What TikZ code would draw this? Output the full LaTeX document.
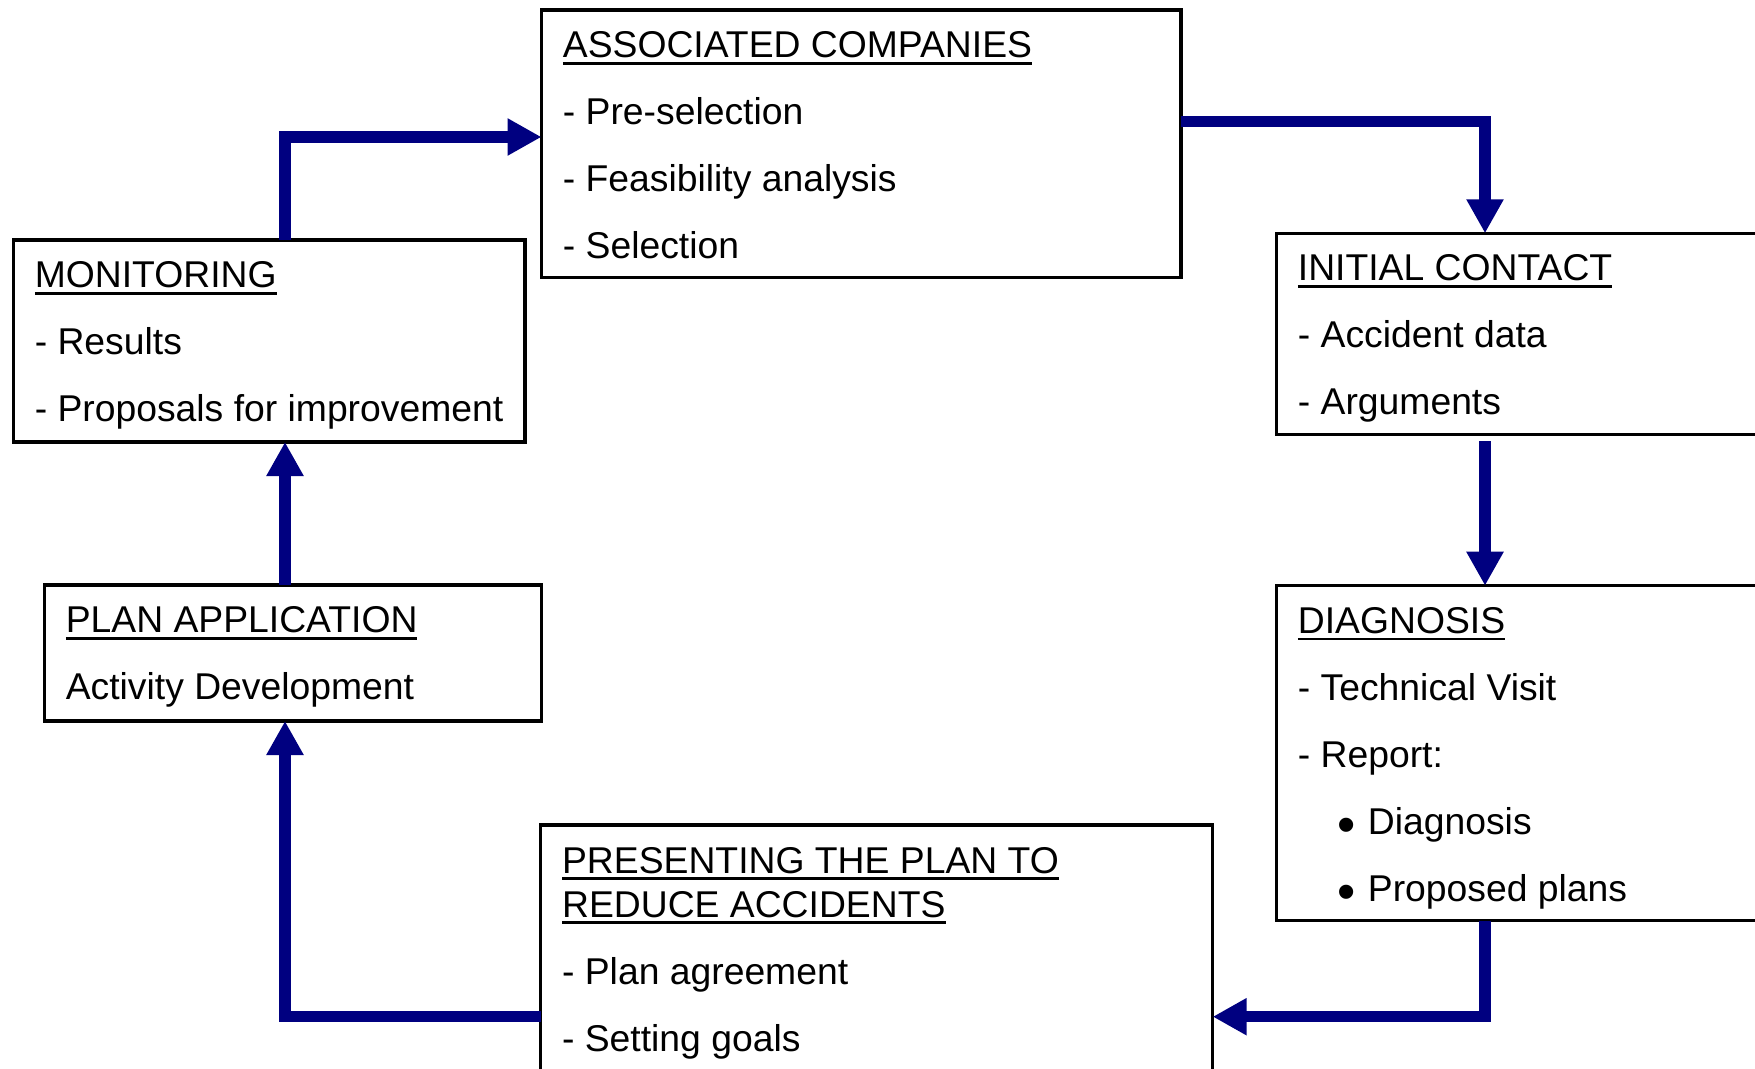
\documentclass[tikz,border=0pt]{standalone}
\usepackage{fontspec}
\setmainfont{Liberation Sans}
\usetikzlibrary{calc,arrows.meta}
\definecolor{flownavy}{RGB}{0,0,128}
\tikzset{>={Triangle[length=17pt,width=17.5pt]}}
\newcommand{\heading}[1]{\setbox0\hbox{#1}\rlap{\rule[-3.6pt]{\wd0}{1.4pt}}\box0}
\newcommand{\dotitem}[1]{\hspace*{20pt}{\fontsize{26}{0}\selectfont\raisebox{-4pt}{•}}\hspace{5.9pt}#1}

\begin{document}
\begin{tikzpicture}[x=0.5pt,y=-0.5pt,
  stage/.style={draw, line width=1.75pt, anchor=north west, inner sep=0pt, outer sep=0pt},
  entry/.style={anchor=base west, inner sep=0pt, font=\fontsize{18.65}{22}\selectfont},
  flow/.style={draw=flownavy, line width=5.75pt, ->}]
\useasboundingbox (0,0) rectangle (1755,1069);
\clip (0,0) rectangle (1755,1069);
% boxes
\node[stage, minimum width=319.75pt, minimum height=133.85pt] (assoc) at (541.5,10) {};
\node[stage, minimum width=255.8pt, minimum height=101pt] (mon) at (13.4,240) {};
\node[stage, minimum width=262pt, minimum height=100.5pt] (init) at (1276.5,233.3) {};
\node[stage, minimum width=262pt, minimum height=167.5pt] (diag) at (1276.5,585.7) {};
\node[stage, minimum width=248.55pt, minimum height=68pt] (plan) at (44.4,585) {};
\node[stage, minimum width=336pt, minimum height=162.5pt] (present) at (540.7,825) {};
% texts
\foreach \k/\t in {0/{\heading{ASSOCIATED COMPANIES}}, 1/- Pre-selection, 2/- Feasibility analysis, 3/- Selection}
  \node[entry] (assoc-\k) at ($(assoc.north west)+(21,{47.5+67*\k})$) {\t};
\foreach \k/\t in {0/{\heading{MONITORING}}, 1/- Results, 2/- Proposals for improvement}
  \node[entry] (mon-\k) at ($(mon.north west)+(21,{47.5+67*\k})$) {\t};
\foreach \k/\t in {0/{\heading{INITIAL CONTACT}}, 1/- Accident data, 2/- Arguments}
  \node[entry] (init-\k) at ($(init.north west)+(21,{47.5+67*\k})$) {\t};
\foreach \k/\t in {0/{\heading{DIAGNOSIS}}, 1/- Technical Visit, 2/- Report:, 3/{\dotitem{Diagnosis}}, 4/{\dotitem{Proposed plans}}}
  \node[entry] (diag-\k) at ($(diag.north west)+(21,{47.5+67*\k})$) {\t};
\foreach \k/\t in {0/{\heading{PLAN APPLICATION}}, 1/Activity Development}
  \node[entry] (plan-\k) at ($(plan.north west)+(21,{47.5+67*\k})$) {\t};
\foreach \k/\dy/\t in {0/48/{\heading{PRESENTING THE PLAN TO}}, 1/92/{\heading{REDUCE ACCIDENTS}}, 2/159/- Plan agreement, 3/226/- Setting goals}
  \node[entry] (present-\k) at ($(present.north west)+(21,\dy)$) {\t};
% connectors
\coordinate (leftcol) at (285,0);
\coordinate (rightcol) at (1485,0);
\coordinate (toprow) at (0,137);
\coordinate (feedrow) at (0,121.7);
\coordinate (backrow) at (0,1016.7);
\draw[flow] (leftcol |- mon.north) |- (assoc.west |- toprow);
\draw[flow] (assoc.east |- feedrow) -| (rightcol |- init.north);
\draw[flow, shorten <=3.5pt] (rightcol |- init.south) -- (rightcol |- diag.north);
\draw[flow] (rightcol |- diag.south) |- (present.east |- backrow);
\draw[flow] (present.west |- backrow) -| (leftcol |- plan.south);
\draw[flow] (leftcol |- plan.north) -- (leftcol |- mon.south);
\end{tikzpicture}
\end{document}
